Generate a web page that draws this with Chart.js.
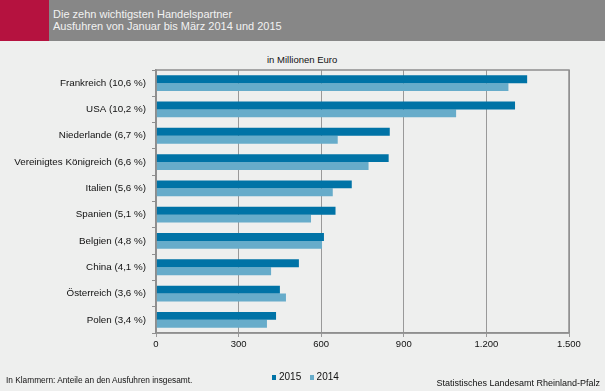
<!DOCTYPE html>
<html>
<head>
<meta charset="utf-8">
<script src="https://cdn.jsdelivr.net/npm/chart.js@4"></script>
<style>
  body { margin: 0; width: 605px; height: 391px; overflow: hidden; background: #eeefee;
         font-family: "Liberation Sans", Arial, sans-serif; }
  #head { position: absolute; left: 0; top: 0; width: 605px; height: 41px; background: #878787; }
  #red { position: absolute; left: 0; top: 0; width: 49px; height: 41px; background: #b5123f; }
  #htxt { position: absolute; left: 53px; top: 8px; color: #f2f2f2; font-size: 11px; line-height: 12px; }
  #unit { position: absolute; left: 267px; top: 54px; font-size: 9.5px; color: #111; }
  #note { position: absolute; left: 6px; top: 375px; font-size: 8.3px; color: #111; }
  #src { position: absolute; right: 5px; top: 378px; font-size: 9px; color: #111; }
  #legend { position: absolute; left: 272px; top: 371px; font-size: 10px; color: #111; }
  #legend span.box { display: inline-block; width: 4px; height: 5px; margin-right: 3px; }
  #chart { position: absolute; left: 0; top: 0; }
</style>
</head>
<body>
<div id="head"><div id="red"></div>
  <div id="htxt">Die zehn wichtigsten Handelspartner<br>Ausfuhren von Januar bis März 2014 und 2015</div>
</div>
<div id="unit">in Millionen Euro</div>
<canvas id="chart" width="605" height="391"></canvas>
<div id="legend"><span class="box" style="background:#0073a6"></span>2015&nbsp;&nbsp;&nbsp;<span class="box" style="background:#67acca"></span>2014</div>
<div id="note">In Klammern: Anteile an den Ausfuhren insgesamt.</div>
<div id="src">Statistisches Landesamt Rheinland-Pfalz</div>
<script>
const countries = ['Frankreich (10,6 %)', 'USA (10,2 %)', 'Niederlande (6,7 %)', 'Vereinigtes Königreich (6,6 %)',
  'Italien (5,6 %)', 'Spanien (5,1 %)', 'Belgien (4,8 %)', 'China (4,1 %)', 'Österreich (3,6 %)', 'Polen (3,4 %)'];
const exports2015 = [1348, 1304, 849, 845, 711, 652, 610, 519, 450, 436];
const exports2014 = [1280, 1090, 660, 772, 642, 563, 603, 418, 472, 403];
const xTicks = [0, 300, 600, 900, 1200, 1500];

const frame = {
  id: 'frame',
  afterDraw(chart) {
    const a = chart.chartArea, ctx = chart.ctx;
    ctx.save();
    ctx.strokeStyle = '#8f8f8f';
    ctx.lineWidth = 1.5;
    ctx.strokeRect(a.left, a.top, a.right - a.left, a.bottom - a.top);
    ctx.restore();
  }
};

new Chart(document.getElementById('chart'), {
  type: 'bar',
  data: {
    labels: countries,
    datasets: [
      { label: '2015', data: exports2015, backgroundColor: '#0073a6', categoryPercentage: 0.6, barPercentage: 1 },
      { label: '2014', data: exports2014, backgroundColor: '#67acca', categoryPercentage: 0.6, barPercentage: 1 }
    ]
  },
  options: {
    indexAxis: 'y',
    responsive: false,
    animation: false,
    layout: { padding: { left: 0, right: 36, top: 70, bottom: 38 } },
    plugins: { legend: { display: false }, tooltip: { enabled: false } },
    scales: {
      x: {
        min: 0, max: 1500,
        afterBuildTicks: s => { s.ticks = xTicks.map(v => ({ value: v })); },
        afterFit: s => { s.height = 20; },
        grid: { color: '#999', lineWidth: 1, tickLength: 4 },
        border: { color: '#8f8f8f', width: 1.5 },
        ticks: {
          color: '#111', font: { family: 'Liberation Sans', size: 9.5 }, padding: 2,
          callback: v => v.toLocaleString('de-DE')
        }
      },
      y: {
        afterFit: s => { s.width = 156; },
        grid: { drawOnChartArea: false, color: '#8f8f8f', tickLength: 4 },
        border: { color: '#8f8f8f', width: 1.5 },
        ticks: { color: '#111', font: { family: 'Liberation Sans', size: 9.8 }, padding: 6 }
      }
    }
  },
  plugins: [frame]
});
</script>
</body>
</html>
